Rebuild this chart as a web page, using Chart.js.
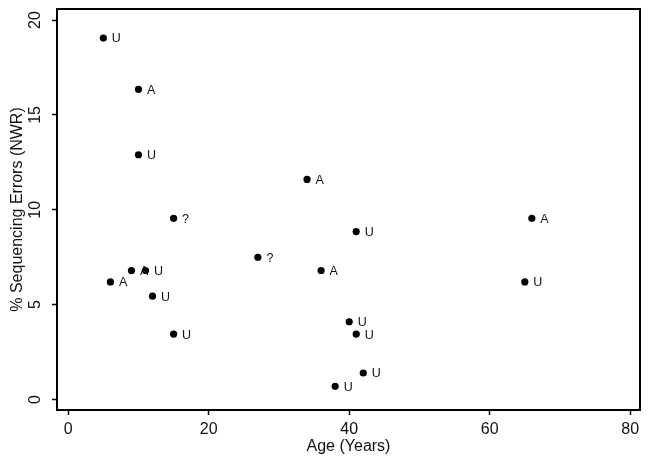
<!DOCTYPE html>
<html><head><meta charset="utf-8">
<script src="https://cdn.jsdelivr.net/npm/chart.js@4/dist/chart.umd.min.js"></script>
<style>html,body{margin:0;padding:0;background:#fff}#wrap{width:649px;height:463px}</style>
</head><body><div id="wrap"><canvas id="c" width="649" height="463"></canvas></div>
<script>
const ages   = [5, 10, 10, 15, 34, 41, 66, 27, 9, 11, 6, 12, 15, 36, 65, 40, 41, 42, 38];
const errors = [19.05, 16.35, 12.9, 9.55, 11.6, 8.85, 9.55, 7.5, 6.8, 6.8, 6.2, 5.45, 3.45, 6.8, 6.2, 4.1, 3.45, 1.4, 0.7];
const groups = ['U','A','U','?','A','U','A','?','A','U','A','U','U','A','U','U','U','U','U'];
const xTicks = [0, 20, 40, 60, 80];
const yTicks = [0, 5, 10, 15, 20];
const xTitle = 'Age (Years)';
const yTitle = '% Sequencing Errors (NWR)';

const FONT = "'Liberation Sans', Arial, Helvetica, sans-serif";
const TXT = '#111';

const points = ages.map((a, i) => ({ x: a, y: errors[i] }));

const decor = {
  id: 'decor',
  afterDatasetsDraw(chart) {
    const { ctx, chartArea: ca, scales } = chart;
    const xs = scales.x, ys = scales.y;
    ctx.save();
    // frame
    ctx.strokeStyle = '#000';
    ctx.lineWidth = 2;
    ctx.strokeRect(ca.left, ca.top, ca.right - ca.left, ca.bottom - ca.top);
    // point labels
    ctx.fillStyle = TXT;
    ctx.font = '12.5px ' + FONT;
    ctx.textAlign = 'left';
    ctx.textBaseline = 'middle';
    points.forEach((p, i) => {
      const px = xs.getPixelForValue(p.x);
      const py = ys.getPixelForValue(p.y);
      ctx.fillText(groups[i], px + 8.5, py + 1);
    });
    // rotated y tick labels
    ctx.font = '16px ' + FONT;
    ctx.textAlign = 'center';
    ctx.textBaseline = 'middle';
    yTicks.forEach(v => {
      const py = ys.getPixelForValue(v);
      ctx.save();
      ctx.translate(36, py);
      ctx.rotate(-Math.PI / 2);
      ctx.fillText(String(v), 0, 0);
      ctx.restore();
    });
    ctx.restore();
  }
};

new Chart(document.getElementById('c'), {
  type: 'scatter',
  data: {
    datasets: [{
      data: points,
      backgroundColor: '#000',
      borderColor: '#000',
      pointRadius: 3.6,
      pointHoverRadius: 3.6,
      borderWidth: 0
    }]
  },
  options: {
    responsive: false,
    animation: false,
    devicePixelRatio: 1,
    layout: { padding: { top: 9, right: 9, left: 0, bottom: 0 } },
    plugins: { legend: { display: false }, tooltip: { enabled: false } },
    scales: {
      x: {
        type: 'linear',
        min: -1.6,
        max: 81.4,
        afterBuildTicks: s => { s.ticks = xTicks.map(v => ({ value: v })); },
        afterFit: s => { s.height = 53; },
        border: { display: false },
        grid: { display: true, drawOnChartArea: false, drawTicks: true, tickLength: 5, tickWidth: 1.5, tickColor: '#000' },
        ticks: { color: TXT, font: { family: FONT, size: 16 }, padding: 5, maxRotation: 0, autoSkip: false },
        title: { display: true, text: xTitle, color: TXT, font: { family: FONT, size: 16 }, padding: { top: 0, bottom: 7 } }
      },
      y: {
        type: 'linear',
        min: -0.55,
        max: 20.58,
        afterBuildTicks: s => { s.ticks = yTicks.map(v => ({ value: v })); },
        afterFit: s => { s.width = 57; },
        border: { display: false },
        grid: { display: true, drawOnChartArea: false, drawTicks: true, tickLength: 5, tickWidth: 1.5, tickColor: '#000' },
        ticks: { display: false },
        title: { display: true, text: yTitle, color: TXT, font: { family: FONT, size: 16 }, padding: { top: 8, bottom: 0 } }
      }
    }
  },
  plugins: [decor]
});
</script>
</body></html>
